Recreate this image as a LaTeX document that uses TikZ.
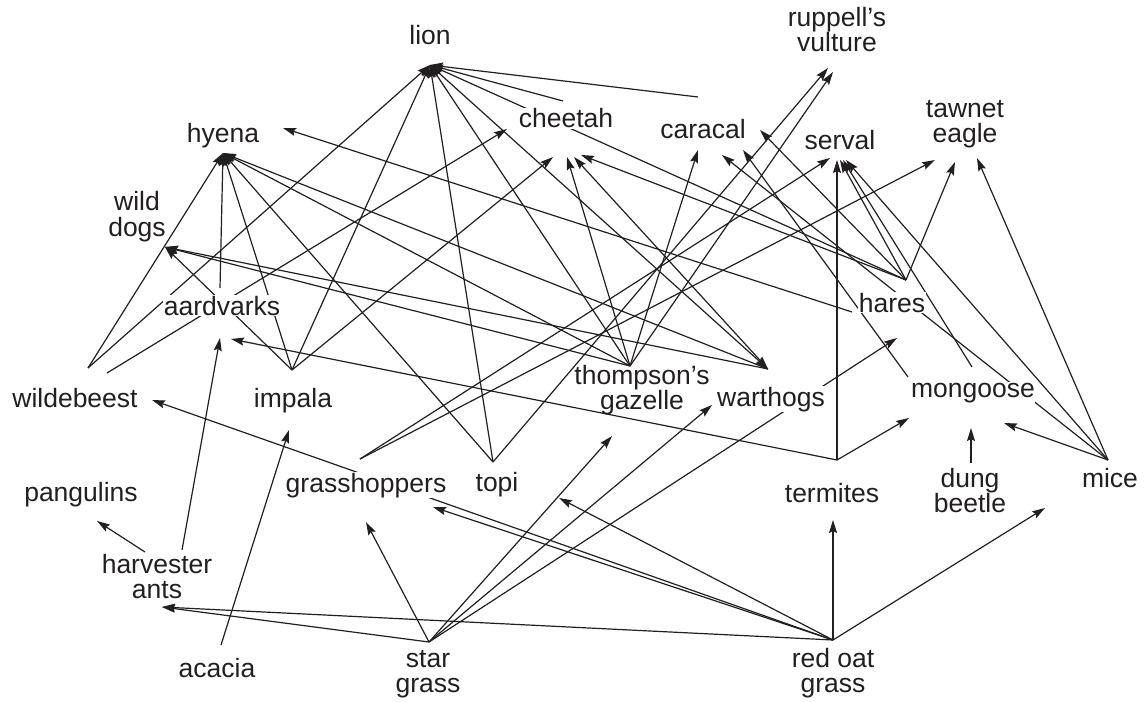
\documentclass[tikz,border=0pt]{standalone}
\usepackage{fontspec}
\setmainfont{Liberation Sans}
\usetikzlibrary{arrows.meta}
\definecolor{ink}{RGB}{35,31,32}
\begin{document}
\begin{tikzpicture}[x=1bp,y=-1bp,
  lbl/.style={fill=white, inner sep=0.5bp, text=ink, font=\fontsize{26.5bp}{25bp}\selectfont, align=center, anchor=base},
  link/.style={draw=ink, line width=1.2bp, -{Stealth[length=13bp,width=8bp,inset=2bp]}},
  link2/.style={draw=ink, line width=1.2bp, {Stealth[length=13bp,width=8bp,inset=2bp]}-{Stealth[length=13bp,width=8bp,inset=2bp]}}
]
\useasboundingbox (0,0) rectangle (1145,702);
% ---- target points
\coordinate (lion-in) at (430,65);
\coordinate (hyena-in) at (223,153);
\coordinate (hyena-in2) at (283,128);
\coordinate (dogs-in) at (165,247);
\coordinate (cheetah-in1) at (507,129);
\coordinate (cheetah-in2) at (553,157);
\coordinate (cheetah-in3) at (567,157);
\coordinate (cheetah-in4) at (574,157);
\coordinate (cheetah-in5) at (581,155);
\coordinate (cheetah-top) at (563,101);
\coordinate (caracal-in1) at (698,150);
\coordinate (caracal-in2) at (722,155);
\coordinate (caracal-in3) at (743,150);
\coordinate (caracal-in4) at (760,130);
\coordinate (caracal-top) at (698,97);
\coordinate (vulture-in1) at (828,68);
\coordinate (vulture-in2) at (833,72);
\coordinate (serval-in1) at (830,158);
\coordinate (serval-in2) at (837,160);
\coordinate (serval-in3) at (840,160);
\coordinate (serval-in4) at (843,160);
\coordinate (serval-in5) at (846,160);
\coordinate (eagle-in1) at (935,160);
\coordinate (eagle-in2) at (955,162);
\coordinate (eagle-in3) at (977,158);
\coordinate (aard-in1) at (220,338);
\coordinate (aard-in2) at (231,339);
\coordinate (wildebeest-in) at (152,400);
\coordinate (impala-in) at (289,430);
\coordinate (thomp-in) at (612,436);
\coordinate (wart-in) at (712,405);
\coordinate (hares-in) at (897,338);
\coordinate (mong-in1) at (909,418);
\coordinate (mong-in2) at (971,428);
\coordinate (mong-in3) at (1004,423);
\coordinate (grassh-in1) at (366,522);
\coordinate (grassh-in2) at (433,507);
\coordinate (topi-in) at (559,498);
\coordinate (term-in) at (833,520);
\coordinate (mice-in) at (1045,508);
\coordinate (pang-in) at (97,521);
\coordinate (harv-in) at (162,607);
% ---- source points
\coordinate (wb-o1) at (88,368);
\coordinate (wb-o2) at (107,373);
\coordinate (imp-o) at (292,370);
\coordinate (aard-o) at (220,288);
\coordinate (thomp-o) at (630,366);
\coordinate (wart-o) at (768,369);
\coordinate (topi-o) at (493,462);
\coordinate (hares-o) at (906,280);
\coordinate (hares-o2) at (852,312);
\coordinate (mong-o1) at (972,367);
\coordinate (mong-o2) at (908,377);
\coordinate (mice-o) at (1108,460);
\coordinate (term-o) at (837,460);
\coordinate (dung-o) at (971,463);
\coordinate (grassh-o) at (360,459);
\coordinate (harv-o1) at (182,550);
\coordinate (harv-o2) at (145,552);
\coordinate (acacia-o) at (221,645);
\coordinate (star-o) at (429,642);
\coordinate (redoat-o) at (833,640);
% ---- connectors
\draw[link] (wb-o1) -- (lion-in);
\draw[link] (wb-o1) -- (hyena-in);
\draw[link] (wb-o2) -- (cheetah-in1);
\draw[link] (imp-o) -- (hyena-in);
\draw[link] (imp-o) -- (dogs-in);
\draw[link] (imp-o) -- (lion-in);
\draw[link] (imp-o) -- (cheetah-in2);
\draw[link] (aard-o) -- (hyena-in);
\draw[link] (thomp-o) -- (dogs-in);
\draw[link] (thomp-o) -- (hyena-in);
\draw[link] (thomp-o) -- (lion-in);
\draw[link] (thomp-o) -- (cheetah-in3);
\draw[link] (thomp-o) -- (caracal-in1);
\draw[link] (thomp-o) -- (vulture-in2);
\draw[link] (wart-o) -- (dogs-in);
\draw[link] (wart-o) -- (hyena-in);
\draw[link2] (lion-in) -- (wart-o);
\draw[link2] (cheetah-in4) -- (wart-o);
\draw[link] (topi-o) -- (hyena-in);
\draw[link] (topi-o) -- (lion-in);
\draw[link] (topi-o) -- (vulture-in1);
\draw[link] (cheetah-top) -- (lion-in);
\draw[link] (caracal-top) -- (lion-in);
\draw[link] (hares-o) -- (lion-in);
\draw[link] (hares-o) -- (cheetah-in5);
\draw[link] (hares-o) -- (caracal-in4);
\draw[link] (hares-o) -- (serval-in3);
\draw[link] (hares-o) -- (eagle-in2);
\draw[link] (hares-o2) -- (hyena-in2);
\draw[link] (mong-o1) -- (serval-in4);
\draw[link] (mong-o2) -- (caracal-in3);
\draw[link] (mice-o) -- (serval-in5);
\draw[link] (mice-o) -- (caracal-in2);
\draw[link] (mice-o) -- (eagle-in3);
\draw[link] (mice-o) -- (mong-in3);
\draw[link] (term-o) -- (serval-in2);
\draw[link] (term-o) -- (mong-in1);
\draw[link] (term-o) -- (aard-in2);
\draw[link] (dung-o) -- (mong-in2);
\draw[link] (grassh-o) -- (serval-in1);
\draw[link] (grassh-o) -- (eagle-in1);
\draw[link] (harv-o1) -- (aard-in1);
\draw[link] (harv-o2) -- (pang-in);
\draw[link] (acacia-o) -- (impala-in);
\draw[link] (star-o) -- (harv-in);
\draw[link] (star-o) -- (grassh-in1);
\draw[link] (star-o) -- (thomp-in);
\draw[link] (star-o) -- (wart-in);
\draw[link] (star-o) -- (hares-in);
\draw[link] (redoat-o) -- (harv-in);
\draw[link] (redoat-o) -- (wildebeest-in);
\draw[link] (redoat-o) -- (grassh-in2);
\draw[link] (redoat-o) -- (topi-in);
\draw[link] (redoat-o) -- (term-in);
\draw[link] (redoat-o) -- (mice-in);
% ---- labels (anchor base = baseline of the last line)
\node[lbl] (lion) at (430,45) {lion};
\node[lbl] (vulture) at (837,52) {ruppell’s\\vulture};
\node[lbl] (cheetah) at (566,128) {cheetah};
\node[lbl] (caracal) at (703,139) {caracal};
\node[lbl] (serval) at (840,150) {serval};
\node[lbl] (eagle) at (965,143) {tawnet\\eagle};
\node[lbl] (hyena) at (223,143) {hyena};
\node[lbl] (dogs) at (137,236) {wild\\dogs};
\node[lbl] (aardvarks) at (222,315) {aardvarks};
\node[lbl] (hares) at (892,312) {hares};
\node[lbl] (wildebeest) at (75,407) {wildebeest};
\node[lbl] (impala) at (293,407) {impala};
\node[lbl, fill=none] (thompson) at (642,409) {thompson’s\\gazelle};
\node[lbl] (warthogs) at (771,406) {warthogs};
\node[lbl] (mongoose) at (973,397) {mongoose};
\node[lbl] (pangulins) at (81,501) {pangulins};
\node[lbl] (grasshoppers) at (366,492) {grasshoppers};
\node[lbl] (topi) at (497,491) {topi};
\node[lbl] (termites) at (832,502) {termites};
\node[lbl] (dung) at (970,512) {dung\\beetle};
\node[lbl] (mice) at (1110,487) {mice};
\node[lbl] (harvester) at (157,598) {harvester\\ants};
\node[lbl] (acacia) at (217,677) {acacia};
\node[lbl] (star) at (428,692) {star\\grass};
\node[lbl] (redoat) at (833,692) {red oat\\grass};
\end{tikzpicture}
\end{document}
